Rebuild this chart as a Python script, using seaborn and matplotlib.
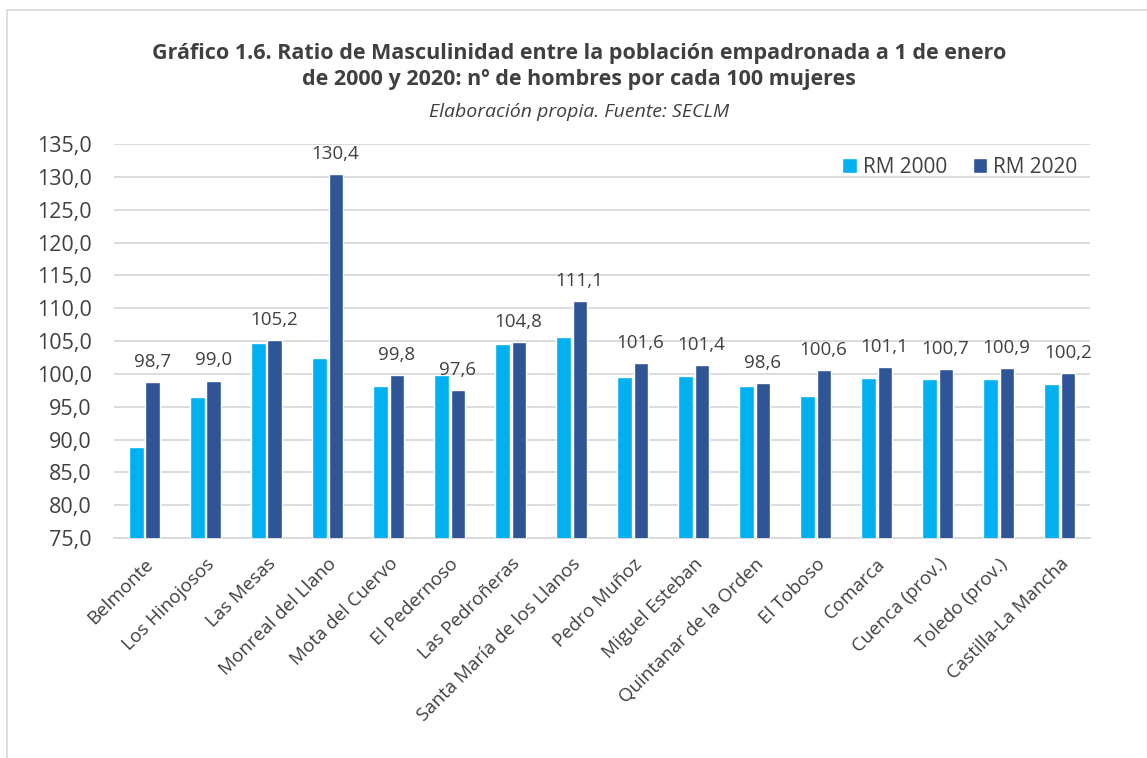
import numpy as np
import pandas as pd
import seaborn as sns
import matplotlib.pyplot as plt
from matplotlib.lines import Line2D

# Data
municipios = ['Belmonte', 'Los Hinojosos', 'Las Mesas', 'Monreal del Llano',
              'Mota del Cuervo', 'El Pedernoso', 'Las Pedroñeras',
              'Santa María de los Llanos', 'Pedro Muñoz', 'Miguel Esteban',
              'Quintanar de la Orden', 'El Toboso', 'Comarca', 'Cuenca (prov.)',
              'Toledo (prov.)', 'Castilla-La Mancha']
rm_2000 = [88.9, 96.5, 104.7, 102.4, 98.2, 99.8, 104.6, 105.6,
           99.6, 99.7, 98.1, 96.7, 99.4, 99.2, 99.3, 98.4]
rm_2020 = [98.7, 99.0, 105.2, 130.4, 99.8, 97.6, 104.8, 111.1,
           101.6, 101.4, 98.6, 100.6, 101.1, 100.7, 100.9, 100.2]
series = ['RM 2000', 'RM 2020']
colores = ['#00B0F0', '#2F5597']
yticks = np.arange(75, 136, 5)

df = pd.DataFrame({
    'municipio': municipios * 2,
    'serie': [series[0]] * len(municipios) + [series[1]] * len(municipios),
    'rm': rm_2000 + rm_2020,
})

sns.set_style('white')
plt.rcParams['font.family'] = ['Open Sans', 'DejaVu Sans']
txt = '#404040'

fig = plt.figure(figsize=(11.47, 7.58), dpi=100)
ax = fig.add_axes([0.0994, 0.290, 0.851, 0.520])

sns.barplot(data=df, x='municipio', y='rm', hue='serie', palette=colores,
            width=0.53, gap=0.12, saturation=1, ax=ax, zorder=3)

ax.set_ylim(75, 135)
ax.set_yticks(yticks)
ax.set_yticklabels([f'{v:.1f}'.replace('.', ',') for v in yticks],
                   fontsize=15.5, color=txt)
ax.yaxis.grid(True, color='#D9D9D9', linewidth=1.3, zorder=0)
ax.set_xlabel('')
ax.set_ylabel('')
ax.set_xlim(-0.5, len(municipios) - 0.5)
for s in ['top', 'right', 'left']:
    ax.spines[s].set_visible(False)
ax.spines['bottom'].set_color('#D9D9D9')
ax.spines['bottom'].set_linewidth(1.3)
ax.tick_params(axis='both', length=0)
ax.tick_params(axis='y', pad=16)
ax.tick_params(axis='x', pad=12)
ax.set_xticks(range(len(municipios)))
ax.set_xticklabels(municipios, rotation=45, ha='right', rotation_mode='anchor',
                   fontsize=13.5, color=txt)

# data labels only on the 2020 series
for c in ax.containers[1:]:
    labels = [f'{v:.1f}'.replace('.', ',') for v in c.datavalues]
    ax.bar_label(c, labels=labels, padding=8, fontsize=13.5, color=txt)

leg = ax.legend(loc='upper right', bbox_to_anchor=(1.0, 1.0), ncol=2, frameon=False,
                fontsize=15, handlelength=0.7, handleheight=0.7,
                columnspacing=1.2, handletextpad=0.3, borderaxespad=0.2)
for t in leg.get_texts():
    t.set_color(txt)

fig.text(0.505, 0.912, 'Gráfico 1.6. Ratio de Masculinidad entre la población empadronada a 1 de enero\n'
         'de 2000 y 2020: nº de hombres por cada 100 mujeres',
         ha='center', va='center', fontsize=15.5, fontweight='bold', color=txt,
         linespacing=1.3)
fig.text(0.505, 0.852, 'Elaboración propia. Fuente: SECLM', ha='center', va='center',
         fontsize=14, style='italic', color=txt)

# chart frame
fig.add_artist(Line2D([0.006, 1.0], [0.987, 0.987], color='#D9D9D9', lw=1.2,
                      transform=fig.transFigure))
fig.add_artist(Line2D([0.006, 0.006], [0.0, 0.987], color='#D9D9D9', lw=1.2,
                      transform=fig.transFigure))

fig.savefig('out.png', dpi=100)
